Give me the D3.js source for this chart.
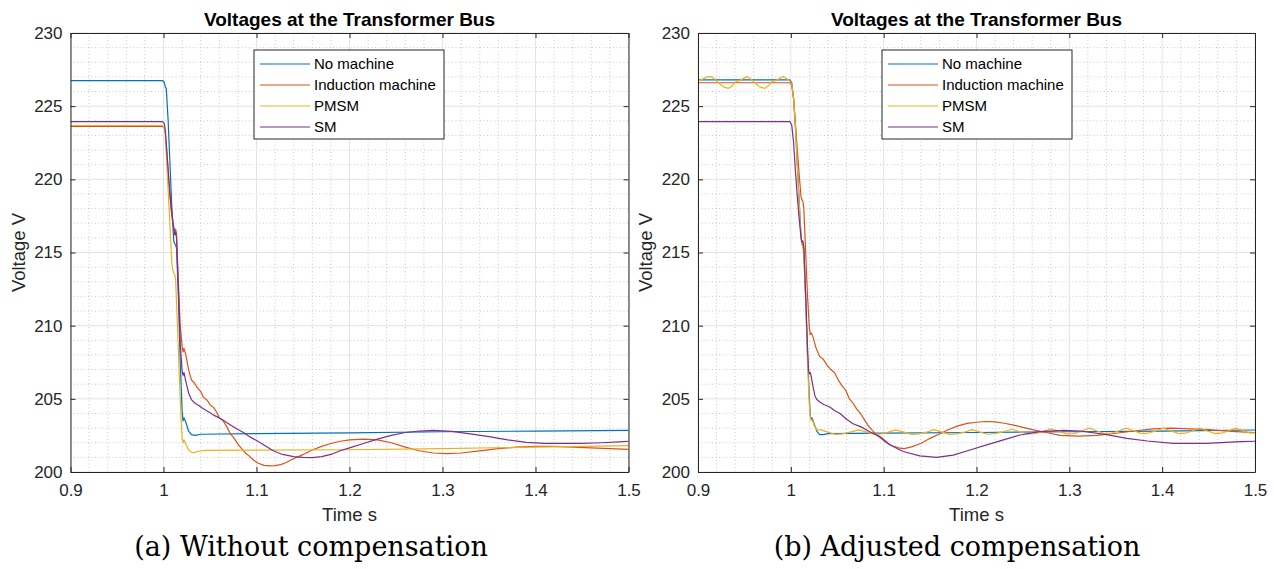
<!DOCTYPE html>
<html><head><meta charset="utf-8">
<script src="https://cdn.jsdelivr.net/npm/d3@7"></script>
<style>
body{margin:0;background:#fff}
svg{display:block}
</style>
</head><body>
<svg id="c" width="1274" height="569"></svg>
<script>
// ---------- DATA ----------
const seriesNames = ["No machine", "Induction machine", "PMSM", "SM"];
const seriesColors = ["#0072BD", "#D95319", "#EDB120", "#7E2F8E"];
const xTickValues = [0.9, 1.0, 1.1, 1.2, 1.3, 1.4, 1.5];
const xTickLabels = ["0.9", "1", "1.1", "1.2", "1.3", "1.4", "1.5"];
const yTickValues = [200, 205, 210, 215, 220, 225, 230];
const yTickLabels = ["200", "205", "210", "215", "220", "225", "230"];
const titleText = "Voltages at the Transformer Bus";
const xLabelText = "Time s";
const yLabelText = "Voltage V";
const captions = ["(a) Without compensation", "(b) Adjusted compensation"];

// (a) Without compensation  [time s, voltage V]
const leftNoMachine = [[0.9,226.75],[0.999,226.75],[1.001,226.6],[1.002,226.3],[1.003,226.2],[1.005,224],[1.007,221],[1.009,218],[1.011,215.8],[1.012,215.6],[1.013,215.5],[1.014,215.3],[1.016,212],[1.018,207.5],[1.020,204.2],[1.021,203.5],[1.022,203.7],[1.024,203.4],[1.027,202.8],[1.030,202.55],[1.034,202.5],[1.04,202.58],[1.1,202.62],[1.2,202.68],[1.3,202.75],[1.4,202.8],[1.5,202.85]];
const leftInduction = [[0.9,223.62],[0.999,223.62],[1.001,223.5],[1.002,223.2],[1.004,221.5],[1.006,219.5],[1.008,218],[1.010,217],[1.012,216.4],[1.013,216.6],[1.014,216.3],[1.016,213],[1.018,210],[1.020,208.6],[1.021,208.2],[1.022,208.45],[1.024,208.0],[1.027,207],[1.030,206.3],[1.033,206.1],[1.036,205.8],[1.040,205.5],[1.043,205.1],[1.047,204.9],[1.050,204.6],[1.054,204.4],[1.057,204.1],[1.060,203.7],[1.064,203.5],[1.068,203.1],[1.072,202.6],[1.076,202.3],[1.080,201.9],[1.084,201.6],[1.088,201.3],[1.092,201.1],[1.097,200.8],[1.102,200.6],[1.108,200.45],[1.114,200.42],[1.12,200.43],[1.126,200.5],[1.132,200.65],[1.138,200.85],[1.145,201.05],[1.152,201.25],[1.16,201.5],[1.17,201.75],[1.18,201.95],[1.19,202.1],[1.2,202.2],[1.215,202.25],[1.23,202.2],[1.245,202.0],[1.26,201.7],[1.275,201.45],[1.29,201.3],[1.305,201.25],[1.32,201.3],[1.34,201.45],[1.36,201.6],[1.38,201.7],[1.4,201.75],[1.42,201.75],[1.44,201.7],[1.46,201.65],[1.48,201.6],[1.5,201.55]];
const leftPMSM = [[0.9,223.68],[0.999,223.68],[1.001,223.5],[1.002,223],[1.004,220.5],[1.006,218],[1.008,215.5],[1.009,214.2],[1.010,213.8],[1.011,213.6],[1.012,213.5],[1.013,213.2],[1.015,210],[1.017,206.5],[1.019,203.5],[1.020,202.3],[1.021,202.0],[1.022,202.2],[1.024,201.9],[1.027,201.5],[1.030,201.35],[1.033,201.32],[1.037,201.42],[1.045,201.48],[1.1,201.5],[1.2,201.52],[1.3,201.6],[1.4,201.7],[1.5,201.8]];
const leftSM = [[0.9,223.95],[0.999,223.95],[1.001,223.8],[1.002,223.3],[1.004,221.5],[1.006,219.8],[1.008,218.3],[1.010,217.2],[1.012,216.2],[1.013,216.4],[1.014,216.0],[1.016,212.5],[1.018,208.8],[1.020,206.9],[1.021,206.6],[1.022,206.8],[1.024,206.2],[1.027,205.4],[1.030,204.95],[1.034,204.7],[1.038,204.55],[1.042,204.35],[1.046,204.2],[1.050,204.05],[1.055,203.85],[1.060,203.7],[1.065,203.5],[1.070,203.3],[1.075,203.1],[1.080,202.9],[1.086,202.7],[1.093,202.4],[1.10,202.15],[1.108,201.85],[1.118,201.45],[1.128,201.2],[1.14,201.05],[1.15,201.0],[1.16,200.98],[1.17,201.05],[1.18,201.2],[1.19,201.45],[1.2,201.65],[1.215,201.95],[1.23,202.25],[1.245,202.5],[1.26,202.7],[1.275,202.8],[1.29,202.85],[1.31,202.78],[1.33,202.6],[1.35,202.42],[1.37,202.2],[1.39,202.02],[1.41,201.96],[1.43,201.95],[1.45,201.96],[1.47,202.0],[1.49,202.06],[1.5,202.1]];

// (b) Adjusted compensation  [time s, voltage V]
const rightNoMachine = [[0.9,226.8],[0.999,226.8],[1.001,226.6],[1.003,225.5],[1.005,223.5],[1.007,221],[1.009,218.5],[1.011,216.2],[1.012,215.6],[1.013,215.5],[1.014,215.2],[1.016,212],[1.018,208],[1.020,205],[1.021,203.8],[1.022,203.6],[1.023,203.7],[1.025,203.3],[1.028,202.8],[1.031,202.55],[1.035,202.55],[1.04,202.62],[1.1,202.65],[1.2,202.7],[1.3,202.75],[1.4,202.8],[1.5,202.87]];
const rightInduction = [[0.9,226.6],[0.999,226.6],[1.001,226.4],[1.003,225.5],[1.005,223.8],[1.007,222],[1.009,220.3],[1.011,218.8],[1.012,218.6],[1.013,218.5],[1.014,218.0],[1.016,215],[1.018,212],[1.020,209.8],[1.021,209.4],[1.022,209.5],[1.024,209.2],[1.027,208.5],[1.031,207.9],[1.035,207.7],[1.039,207.3],[1.043,207.0],[1.047,206.8],[1.051,206.3],[1.055,205.9],[1.059,205.6],[1.063,205.0],[1.067,204.7],[1.071,204.3],[1.075,204.0],[1.079,203.6],[1.083,203.2],[1.087,202.9],[1.092,202.55],[1.097,202.3],[1.103,202.0],[1.11,201.78],[1.116,201.65],[1.122,201.6],[1.13,201.72],[1.14,201.95],[1.15,202.3],[1.16,202.6],[1.17,202.9],[1.18,203.15],[1.19,203.32],[1.2,203.4],[1.21,203.45],[1.22,203.42],[1.23,203.33],[1.24,203.2],[1.25,203.05],[1.26,202.9],[1.275,202.7],[1.29,202.5],[1.31,202.45],[1.33,202.5],[1.35,202.65],[1.37,202.8],[1.39,202.95],[1.41,203.0],[1.43,202.95],[1.45,202.9],[1.47,202.8],[1.49,202.72],[1.5,202.7]];
const rightPMSM = [[0.9,226.7],[0.905,226.85],[0.91,227.0],[0.914,227.02],[0.918,226.85],[0.923,226.55],[0.928,226.3],[0.933,226.22],[0.937,226.4],[0.941,226.7],[0.945,226.75],[0.949,226.9],[0.953,227.02],[0.957,226.85],[0.962,226.55],[0.967,226.3],[0.972,226.22],[0.976,226.4],[0.98,226.7],[0.984,226.75],[0.988,226.9],[0.992,227.02],[0.996,226.85],[0.999,226.7],[1.001,226.5],[1.003,225.5],[1.005,223.5],[1.007,221],[1.009,218.3],[1.011,215.9],[1.012,215.5],[1.013,215.3],[1.014,214.8],[1.016,211.5],[1.018,207.5],[1.020,204.5],[1.021,203.7],[1.022,203.5],[1.023,203.6],[1.025,203.2],[1.028,202.9],[1.032,202.88],[1.040,202.72],[1.048,202.57],[1.055,202.6],[1.064,202.72],[1.073,202.88],[1.082,202.72],[1.090,202.57],[1.097,202.6],[1.105,202.72],[1.113,202.88],[1.122,202.72],[1.130,202.57],[1.138,202.6],[1.146,202.72],[1.154,202.9],[1.163,202.72],[1.171,202.57],[1.179,202.6],[1.187,202.72],[1.195,202.9],[1.204,202.72],[1.212,202.58],[1.22,202.62],[1.229,202.75],[1.238,202.92],[1.247,202.75],[1.255,202.6],[1.263,202.62],[1.271,202.76],[1.28,202.95],[1.289,202.78],[1.297,202.6],[1.305,202.62],[1.313,202.8],[1.322,203.0],[1.33,202.8],[1.338,202.62],[1.345,202.65],[1.353,202.8],[1.361,203.0],[1.37,202.8],[1.378,202.62],[1.385,202.65],[1.393,202.8],[1.401,203.0],[1.41,202.8],[1.418,202.62],[1.425,202.65],[1.432,202.8],[1.44,203.0],[1.449,202.8],[1.457,202.62],[1.464,202.65],[1.471,202.8],[1.479,203.0],[1.488,202.82],[1.495,202.65],[1.5,202.68]];
const rightSM = [[0.9,223.95],[0.999,223.95],[1.001,223.7],[1.003,222.5],[1.005,220.5],[1.007,218.8],[1.009,217.3],[1.011,216.0],[1.012,215.7],[1.013,215.8],[1.014,215.4],[1.016,212],[1.018,208.5],[1.019,207.0],[1.020,206.7],[1.021,206.8],[1.022,206.5],[1.024,205.8],[1.026,205.2],[1.028,204.95],[1.032,204.75],[1.036,204.6],[1.042,204.44],[1.047,204.2],[1.053,204.0],[1.06,203.6],[1.067,203.3],[1.075,203.1],[1.085,202.75],[1.096,202.42],[1.107,201.85],[1.121,201.4],[1.139,201.1],[1.157,201.0],[1.175,201.15],[1.193,201.5],[1.211,201.85],[1.229,202.2],[1.247,202.53],[1.268,202.76],[1.294,202.85],[1.312,202.8],[1.34,202.55],[1.362,202.3],[1.384,202.12],[1.412,201.96],[1.448,201.96],[1.484,202.07],[1.5,202.1]];

// ---------- DRAW ----------
const svg = d3.select("#c");
const axisColor = "#262626";
const sans = '"Liberation Sans",Arial,Helvetica,sans-serif';
const serif = '"DejaVu Serif","Liberation Serif",serif';

function panel(idx, x0, x1, series, legendX, legendW, captionX) {
  const x = d3.scaleLinear().domain([0.9, 1.5]).range([x0, x1]);
  const y = d3.scaleLinear().domain([200, 230]).range([472, 33]);
  const g = svg.append("g");
  const [yb, yt] = y.range();

  // minor grid (dotted)
  const xMinor = d3.range(0, 31).map(i => 0.9 + i * 0.02).filter(v => Math.abs((v * 10) - Math.round(v * 10)) > 1e-6);
  const yMinor = d3.range(200, 231).filter(v => v % 5 !== 0);
  g.append("g").selectAll("line").data(xMinor).join("line")
    .attr("x1", d => x(d)).attr("x2", d => x(d)).attr("y1", yt).attr("y2", yb)
    .attr("stroke", "#c8c8c8").attr("stroke-width", 1).attr("stroke-dasharray", "1,2.5");
  g.append("g").selectAll("line").data(yMinor).join("line")
    .attr("y1", d => y(d)).attr("y2", d => y(d)).attr("x1", x0).attr("x2", x1)
    .attr("stroke", "#c8c8c8").attr("stroke-width", 1).attr("stroke-dasharray", "1,2.5");
  // major grid
  g.append("g").selectAll("line").data(xTickValues).join("line")
    .attr("x1", d => x(d)).attr("x2", d => x(d)).attr("y1", yt).attr("y2", yb)
    .attr("stroke", "#e3e3e3").attr("stroke-width", 1);
  g.append("g").selectAll("line").data(yTickValues).join("line")
    .attr("y1", d => y(d)).attr("y2", d => y(d)).attr("x1", x0).attr("x2", x1)
    .attr("stroke", "#e3e3e3").attr("stroke-width", 1);

  // lines
  const clipId = "clip" + idx;
  svg.append("defs").append("clipPath").attr("id", clipId)
    .append("rect").attr("x", x0).attr("y", yt).attr("width", x1 - x0).attr("height", yb - yt);
  const line = d3.line().x(d => x(d[0])).y(d => y(d[1]));
  const lg = g.append("g").attr("clip-path", `url(#${clipId})`);
  series.forEach((s, i) => {
    lg.append("path").datum(s).attr("d", line).attr("fill", "none")
      .attr("stroke", seriesColors[i]).attr("stroke-width", 1.2).attr("stroke-linejoin", "round");
  });

  // axes
  const fmtX = d => xTickLabels[xTickValues.indexOf(d)];
  const fmtY = d => yTickLabels[yTickValues.indexOf(d)];
  const ax = g.append("g").attr("transform", `translate(0,${yb})`)
    .call(d3.axisBottom(x).tickValues(xTickValues).tickFormat(fmtX).tickSizeInner(-5).tickSizeOuter(0).tickPadding(12));
  const ay = g.append("g").attr("transform", `translate(${x0},0)`)
    .call(d3.axisLeft(y).tickValues(yTickValues).tickFormat(fmtY).tickSizeInner(-5).tickSizeOuter(0).tickPadding(8));
  const at = g.append("g").attr("transform", `translate(0,${yt})`)
    .call(d3.axisTop(x).tickValues(xTickValues).tickFormat("").tickSizeInner(-5).tickSizeOuter(0));
  const ar = g.append("g").attr("transform", `translate(${x1},0)`)
    .call(d3.axisRight(y).tickValues(yTickValues).tickFormat("").tickSizeInner(-5).tickSizeOuter(0));
  [ax, ay, at, ar].forEach(a => {
    a.select(".domain").attr("stroke", axisColor).attr("stroke-width", 1);
    a.selectAll(".tick line").attr("stroke", axisColor);
    a.selectAll("text").style("font-size", "17px").style("fill", axisColor).style("font-family", sans);
  });

  // labels
  const cx = (x0 + x1) / 2;
  g.append("text").attr("x", cx).attr("y", 26).attr("text-anchor", "middle")
    .style("font-family", sans).style("font-size", "19px").style("font-weight", "bold").style("fill", "#000")
    .text(titleText);
  g.append("text").attr("x", cx).attr("y", 521).attr("text-anchor", "middle")
    .style("font-family", sans).style("font-size", "18.5px").style("fill", axisColor).text(xLabelText);
  g.append("text").attr("transform", `translate(${x0 - 46},${(yt + yb) / 2}) rotate(-90)`)
    .attr("text-anchor", "middle").style("font-family", sans).style("font-size", "18.5px").style("fill", axisColor)
    .text(yLabelText);

  // legend
  const ly = 50, lh = 89;
  const leg = g.append("g");
  leg.append("rect").attr("x", legendX).attr("y", ly).attr("width", legendW).attr("height", lh)
    .attr("fill", "#fff").attr("stroke", axisColor).attr("stroke-width", 1);
  const rows = [64, 85, 106, 127];
  seriesNames.forEach((n, i) => {
    leg.append("line").attr("x1", legendX + 6).attr("x2", legendX + 56)
      .attr("y1", rows[i]).attr("y2", rows[i]).attr("stroke", seriesColors[i]).attr("stroke-width", 1.2);
    leg.append("text").attr("x", legendX + 60).attr("y", rows[i]).attr("dy", "0.35em")
      .style("font-family", sans).style("font-size", "15px").style("fill", "#000").text(n);
  });

  // caption
  svg.append("text").attr("x", captionX).attr("y", 556).attr("text-anchor", "middle")
    .style("font-family", serif).style("font-size", "27px").style("fill", "#000").text(captions[idx]);
}

panel(0, 70.5, 628.5, [leftNoMachine, leftInduction, leftPMSM, leftSM], 254, 190, 311);
panel(1, 698, 1255, [rightNoMachine, rightInduction, rightPMSM, rightSM], 882, 190, 957);
</script>
</body></html>
